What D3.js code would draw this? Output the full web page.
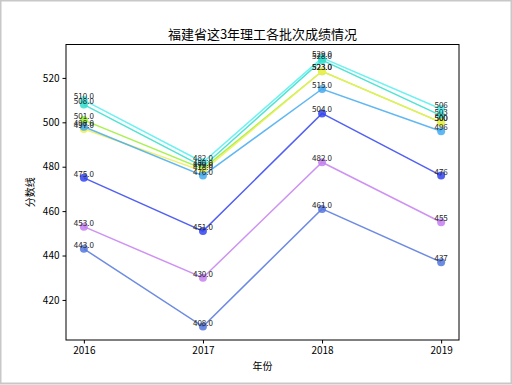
<!DOCTYPE html>
<html><head><meta charset="utf-8">
<script src="https://cdn.jsdelivr.net/npm/d3@7"></script>
<style>body{margin:0;background:#fff;}svg{display:block;}</style>
</head><body>
<svg id="c" width="512" height="385"></svg>
<script>
const years = [2016, 2017, 2018, 2019];
const seriesNames = ["s1","s2","s3","s4","s5","s6","s7","s8"];
const seriesColors = ["#55eeee","#33ddcc","#99ee33","#eeee55","#44aaee","#3344ee","#c47ff0","#5577dd"];
const s1 = [510, 482, 529, 506];
const s2 = [508, 480, 528, 503];
const s3 = [501, 479, 523, 500];
const s4 = [497, 478, 523, 500];
const s5 = [498, 476, 515, 496];
const s6 = [475, 451, 504, 476];
const s7 = [453, 430, 482, 455];
const s8 = [443, 408, 461, 437];
const seriesValues = [s1, s2, s3, s4, s5, s6, s7, s8];
const yTicks = [420, 440, 460, 480, 500, 520];
const title = "福建省这3年理工各批次成绩情况";
const xLabel = "年份";
const yLabel = "分数线";

const svg = d3.select("#c");
const font = "'Noto Sans CJK SC','DejaVu Sans',sans-serif";
// window border
svg.append("rect").attr("x",0.5).attr("y",0.5).attr("width",511).attr("height",383)
  .attr("fill","#fff").attr("stroke","#c8c8c8").attr("stroke-width",2);

const L = 66, R = 459, T = 44.5, B = 340;
const x = d3.scaleLinear().domain([2015.85, 2019.15]).range([L, R]);
const y = d3.scaleLinear().domain([401.95, 535.05]).range([B, T]);

const g = svg.append("g");
seriesValues.forEach((vals, i) => {
  const pts = years.map((yr, j) => [yr, vals[j]]);
  g.append("path").datum(pts)
    .attr("d", d3.line().x(d => x(d[0])).y(d => y(d[1])))
    .attr("fill","none").attr("stroke", seriesColors[i]).attr("stroke-width",1.5).attr("opacity",0.85);
  g.selectAll(null).data(pts).enter().append("circle")
    .attr("cx", d => x(d[0])).attr("cy", d => y(d[1])).attr("r", 4)
    .attr("fill", seriesColors[i]).attr("opacity",0.85);
});
seriesValues.forEach((vals, i) => {
  years.forEach((yr, j) => {
    g.append("text").attr("x", x(yr)).attr("y", y(vals[j]) - 1)
      .attr("text-anchor","middle").attr("font-family", font)
      .attr("font-size", 8).attr("fill","#222")
      .text(j < 3 ? vals[j].toFixed(1) : String(vals[j]));
  });
});

// frame
svg.append("rect").attr("x",L).attr("y",T).attr("width",R-L).attr("height",B-T)
  .attr("fill","none").attr("stroke","#000").attr("stroke-width",1);

const xa = svg.append("g").attr("transform",`translate(0,${B})`)
  .call(d3.axisBottom(x).tickValues(years).tickFormat(d3.format("d")).tickSize(3.5).tickPadding(3));
const ya = svg.append("g").attr("transform",`translate(${L},0)`)
  .call(d3.axisLeft(y).tickValues(yTicks).tickSize(3.5).tickPadding(3));
[xa, ya].forEach(a => {
  a.select(".domain").remove();
  a.selectAll("text").attr("font-family", font).attr("font-size",10).attr("fill","#000");
  a.selectAll("line").attr("stroke","#000");
});

svg.append("text").attr("x", (L+R)/2).attr("y", 39).attr("text-anchor","middle")
  .attr("font-family", font).attr("font-size", 13).text(title);
svg.append("text").attr("x", (L+R)/2).attr("y", 370).attr("text-anchor","middle")
  .attr("font-family", font).attr("font-size", 10).text(xLabel);
svg.append("text").attr("transform", `translate(34,${(T+B)/2}) rotate(-90)`).attr("text-anchor","middle")
  .attr("font-family", font).attr("font-size", 10).text(yLabel);
</script>
</body></html>
